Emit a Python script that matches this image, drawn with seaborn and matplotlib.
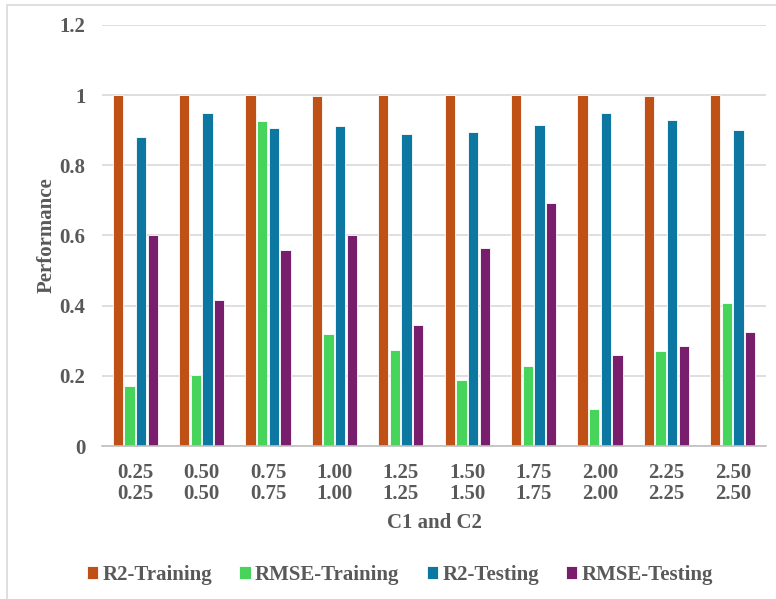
import matplotlib
matplotlib.use("Agg")
import matplotlib.pyplot as plt
import seaborn as sns
import pandas as pd
from matplotlib.patches import Rectangle

# C1 and C2 settings (both parameters share the same value per run)
c_values = ["0.25", "0.50", "0.75", "1.00", "1.25", "1.50", "1.75", "2.00", "2.25", "2.50"]
r2_training = [1.000, 1.000, 1.000, 0.997, 1.000, 1.000, 1.000, 1.000, 0.997, 1.000]
rmse_training = [0.171, 0.203, 0.926, 0.319, 0.273, 0.188, 0.228, 0.105, 0.271, 0.407]
r2_testing = [0.881, 0.950, 0.905, 0.912, 0.890, 0.896, 0.915, 0.948, 0.929, 0.902]
rmse_testing = [0.600, 0.415, 0.560, 0.600, 0.346, 0.565, 0.693, 0.260, 0.284, 0.324]

series_names = ["R2-Training", "RMSE-Training", "R2-Testing", "RMSE-Testing"]
series_values = [r2_training, rmse_training, r2_testing, rmse_testing]
colors = ["#BF5016", "#46D45B", "#0C77A1", "#791E6C"]
yticks = [0, 0.2, 0.4, 0.6, 0.8, 1.0, 1.2]
ytick_labels = ["0", "0.2", "0.4", "0.6", "0.8", "1", "1.2"]

rows = []
for name, vals in zip(series_names, series_values):
    for c, v in zip(c_values, vals):
        rows.append({"C": f"{c}\n{c}", "Metric": name, "Performance": v})
df = pd.DataFrame(rows)

sns.set_theme(style="white")
plt.rcParams["font.family"] = ["Liberation Serif", "DejaVu Serif"]
plt.rcParams["font.weight"] = "bold"

text_color = "#595959"
fig = plt.figure(figsize=(7.76, 5.99), dpi=100)
ax = fig.add_axes([102 / 776, 1 - 446 / 599, 664 / 776, 421 / 599])

sns.barplot(data=df, x="C", y="Performance", hue="Metric", hue_order=series_names,
            palette=colors, width=0.7, gap=0.12, edgecolor="white", linewidth=0.6,
            saturation=1, ax=ax, legend=True)

ax.set_ylim(0, 1.2)
ax.set_xlim(-0.5, len(c_values) - 0.5)
ax.set_yticks(yticks)
ax.set_yticklabels(ytick_labels)
ax.yaxis.grid(True, color="#D9D9D9", linewidth=1.2)
ax.set_axisbelow(True)
for side in ["top", "right", "left"]:
    ax.spines[side].set_visible(False)
ax.spines["bottom"].set_color("#BFBFBF")
ax.spines["bottom"].set_linewidth(1.2)
ax.tick_params(axis="both", length=0, labelsize=15, colors=text_color)
ax.tick_params(axis="y", pad=12)
ax.tick_params(axis="x", pad=12)
for lbl in ax.get_xticklabels() + ax.get_yticklabels():
    lbl.set_fontweight("bold")
    lbl.set_linespacing(1.1)

ax.set_xlabel("C1 and C2", fontsize=15, fontweight="bold", color=text_color, labelpad=6)
ax.set_ylabel("Performance", fontsize=15, fontweight="bold", color=text_color, labelpad=2)

handles, labels = ax.get_legend_handles_labels()
ax.legend(handles, labels, loc="center", bbox_to_anchor=(400 / 776, 1 - 575 / 599),
          bbox_transform=fig.transFigure, ncol=4, frameon=False,
          handlelength=0.55, handleheight=0.6, handletextpad=0.2, columnspacing=1.3,
          labelcolor=text_color, prop={"weight": "bold", "size": 15})

# chart-area border
fig.patches.append(Rectangle((7 / 776, -0.01), 1.0, 1 - 5 / 599 + 0.01,
                             transform=fig.transFigure, fill=False,
                             edgecolor="#D9D9D9", linewidth=1.2))

fig.savefig("out.png", dpi=100)
